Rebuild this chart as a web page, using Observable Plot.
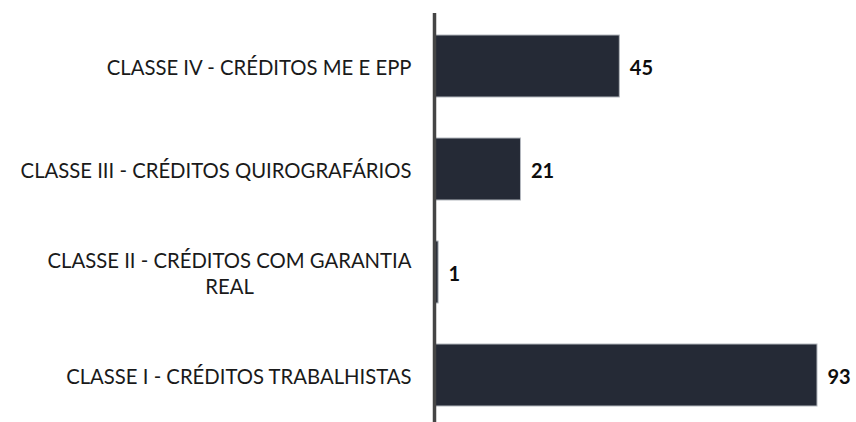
<!DOCTYPE html>
<html>
<head>
<meta charset="utf-8">
<script src="https://cdn.jsdelivr.net/npm/d3@7"></script>
<script src="https://cdn.jsdelivr.net/npm/@observablehq/plot@0.6"></script>
<style>
  html, body { margin: 0; padding: 0; background: #ffffff; }
  #chart { width: 856px; height: 422px; }
  svg { font-family: Lato, "Open Sans", sans-serif; }
</style>
</head>
<body>
<div id="chart"></div>
<script>
const categories = [
  "CLASSE IV - CRÉDITOS ME E EPP",
  "CLASSE III - CRÉDITOS QUIROGRAFÁRIOS",
  "CLASSE II - CRÉDITOS COM GARANTIA\nREAL",
  "CLASSE I - CRÉDITOS TRABALHISTAS"
];
const values = [45, 21, 1, 93];

const data = categories.map((c, i) => ({ label: c, value: values[i] }));

const chart = Plot.plot({
  width: 856,
  height: 422,
  marginLeft: 434,
  marginRight: 39,
  marginTop: 13,
  marginBottom: -5,
  style: { fontFamily: "Lato, 'Open Sans', sans-serif", background: "#ffffff" },
  x: { domain: [0, 93], axis: null },
  y: { domain: categories, paddingInner: 0.4, paddingOuter: 0.2, label: null },
  marks: [
    Plot.barX(data, { x: "value", y: "label", fill: "#252a36", stroke: "#b4b8be", strokeWidth: 1 }),
    Plot.ruleX([0], { stroke: "#454545", strokeWidth: 3.5 }),
    Plot.text(data, {
      x: "value", y: "label", text: d => String(d.value),
      dx: 10, dy: 2, textAnchor: "start", fontWeight: "bold", fontSize: 20, fill: "#0d0d0d"
    }),
    Plot.axisY({ tickSize: 0, tickPadding: 23, fontSize: 20.3, lineHeight: 1.3, color: "#1a1a1a", label: null })
  ]
});

document.getElementById("chart").appendChild(chart);

// center the lines of wrapped tick labels on each other
chart.querySelectorAll("g[aria-label='y-axis tick label'] text").forEach(t => {
  const spans = t.querySelectorAll("tspan");
  if (spans.length < 2) return;
  const widths = Array.from(spans, s => s.getComputedTextLength());
  const wmax = Math.max(...widths);
  spans.forEach((s, i) => {
    const x0 = +(s.getAttribute("x") || 0);
    s.setAttribute("x", x0 - (wmax - widths[i]) / 2);
  });
});
</script>
</body>
</html>
